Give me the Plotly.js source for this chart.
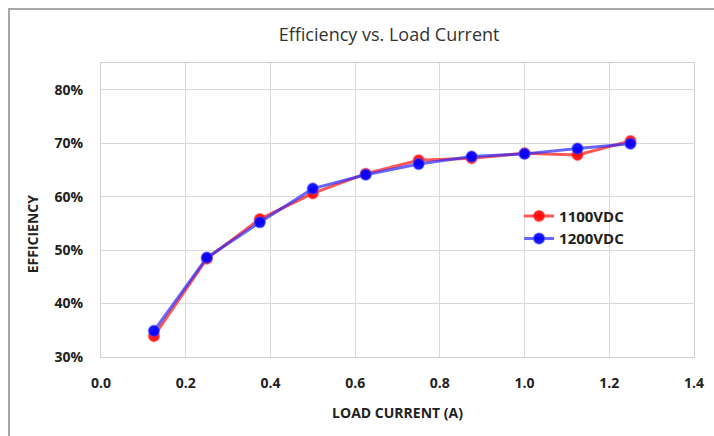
<!DOCTYPE html>
<html>
<head>
<meta charset="utf-8">
<script src="https://cdn.plot.ly/plotly-3.0.1.min.js"></script>
<style>
html,body{margin:0;padding:0;background:#fff;}
#wrap{position:relative;width:714px;height:436px;overflow:hidden;}
#frame{position:absolute;left:8px;top:8px;width:800px;height:600px;border-left:2px solid #a6a6a6;border-top:2px solid #a6a6a6;pointer-events:none;z-index:5;}
#chart{position:absolute;left:0;top:0;width:714px;height:436px;}
</style>
</head>
<body>
<div id="wrap"><div id="chart"></div><div id="frame"></div></div>
<script>
const loadCurrent = [0.125, 0.25, 0.375, 0.5, 0.625, 0.75, 0.875, 1.0, 1.125, 1.25];
const eff1100 = [0.339, 0.484, 0.558, 0.606, 0.643, 0.668, 0.672, 0.681, 0.678, 0.704];
const eff1200 = [0.349, 0.486, 0.552, 0.615, 0.641, 0.661, 0.675, 0.680, 0.690, 0.699];
const xTicks = [0, 0.2, 0.4, 0.6, 0.8, 1.0, 1.2, 1.4];
const xTickText = ['0.0', '0.2', '0.4', '0.6', '0.8', '1.0', '1.2', '1.4'];
const yTicks = [0.3, 0.4, 0.5, 0.6, 0.7, 0.8];
const yTickText = ['30%', '40%', '50%', '60%', '70%', '80%'];

const fontFam = '"Liberation Sans Narrow", "Open Sans", "Liberation Sans", sans-serif';
const boldFam = '"Open Sans", "Liberation Sans", sans-serif';

const traces = [
  {
    x: loadCurrent, y: eff1100, name: '1100VDC', type: 'scatter', mode: 'lines+markers',
    line: {color: 'rgba(255,30,30,0.75)', width: 3},
    marker: {color: 'rgba(255,0,0,0.9)', size: 11, line: {color: 'rgba(255,80,80,0.5)', width: 1.5}}
  },
  {
    x: loadCurrent, y: eff1200, name: '1200VDC', type: 'scatter', mode: 'lines+markers',
    line: {color: 'rgba(40,40,255,0.7)', width: 3},
    marker: {color: 'rgba(0,0,255,0.92)', size: 11, line: {color: 'rgba(80,80,255,0.5)', width: 1.5}}
  }
];

const layout = {
  width: 714, height: 436,
  margin: {l: 101, r: 20, t: 63, b: 79},
  paper_bgcolor: '#fff', plot_bgcolor: '#fff',
  showlegend: true,
  legend: {x: 0.705, y: 0.535, xanchor: 'left', yanchor: 'top', bgcolor: 'rgba(0,0,0,0)',
           font: {family: boldFam, size: 15, color: '#222', weight: 'bold'}, tracegroupgap: 0, itemwidth: 30},
  title: {text: 'Efficiency vs. Load Current', x: 0.545, xanchor: 'center', y: 0.92, yanchor: 'middle',
          font: {family: fontFam, size: 18, color: '#333'}},
  xaxis: {
    range: [0, 1.4], tickvals: xTicks, ticktext: xTickText,
    showgrid: true, gridcolor: '#d9d9d9', gridwidth: 1,
    zeroline: false, showline: true, linecolor: '#d0d0d0', linewidth: 1, mirror: true,
    ticks: '', ticklen: 0, ticklabelstandoff: 13,
    tickfont: {family: boldFam, size: 14, color: '#222', weight: 'bold'},
    title: {text: '<b>LOAD CURRENT (A)</b>', standoff: 17, font: {family: boldFam, size: 14, color: '#222'}}
  },
  yaxis: {
    range: [0.3, 0.85], tickvals: yTicks, ticktext: yTickText,
    showgrid: true, gridcolor: '#d9d9d9', gridwidth: 1,
    zeroline: false, showline: true, linecolor: '#d0d0d0', linewidth: 1, mirror: true,
    ticks: '', ticklen: 0, ticklabelstandoff: 14,
    tickfont: {family: boldFam, size: 14, color: '#222', weight: 'bold'}
  },
  annotations: [
    {text: '<b>EFFICIENCY</b>', xref: 'paper', yref: 'paper', x: -0.115, y: 0.42,
     xanchor: 'center', yanchor: 'middle', textangle: -90, showarrow: false,
     font: {family: boldFam, size: 14, color: '#222'}}
  ]
};

Plotly.newPlot('chart', traces, layout, {displayModeBar: false, staticPlot: true});
</script>
</body>
</html>
